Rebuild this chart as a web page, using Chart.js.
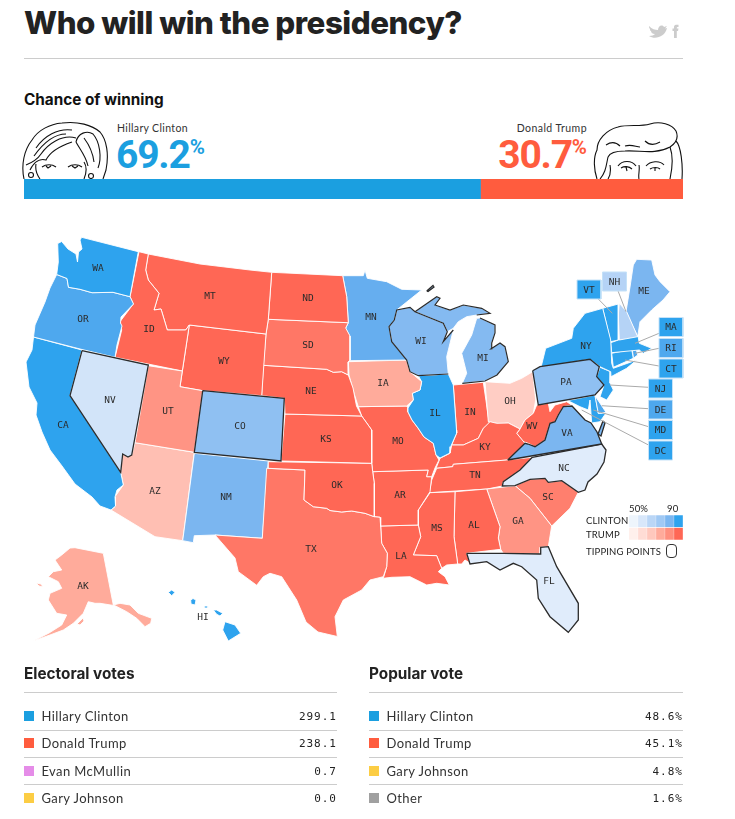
<!DOCTYPE html>
<html>
<head>
<meta charset="utf-8">
<title>Who will win the presidency?</title>
<script src="https://cdn.jsdelivr.net/npm/chart.js@4"></script>
<style>
  html, body { margin: 0; background: #fff; }
  #page { position: relative; width: 735px; height: 819px; overflow: hidden; color: #222; font-family: Inter, sans-serif; }
  #page > * { position: absolute; }
  canvas { display: block; }
  .rule { height: 1px; background: #ccc; }
  .t { white-space: nowrap; line-height: 1; }
  .big { font-family: Roboto, sans-serif; font-weight: 700; font-size: 39px; letter-spacing: -1.2px; }
  .big sup { font-size: 20.5px; font-weight: 700; letter-spacing: 0; position: relative; top: -14px; vertical-align: baseline; }
  .stateLabel { position: absolute; transform: translate(-50%, -50%); font: 9.5px "DejaVu Sans Mono", monospace; color: #2b2b2b; line-height: 1; }
  .key { font: 9.5px Lato, sans-serif; color: #222; letter-spacing: .15px; }
  .row { height: 1px; background: #ccc; }
  .name { font: 13px Lato, sans-serif; letter-spacing: .4px; color: #333; }
  .val { font: 11px "DejaVu Sans Mono", monospace; letter-spacing: 1px; color: #222; text-align: right; }
  .swatch { width: 9.5px; height: 10px; }
</style>
</head>
<body>
<div id="page">
  <div class="t" style="left:24px;top:8px;font-size:31.3px;font-weight:800;letter-spacing:-.5px" id="title">Who will win the presidency?</div>
  <svg style="left:645px;top:20px" width="40" height="22" viewBox="0 0 40 22">
    <path d="M4 6 C7 9 10 10 13 10 C13 6 17 4 19 7 L22 6 L20 8.5 L22 8 C20 17 10 20 4 16 C7 16 9 15 10 14 C7 14 6 12 6 11 C5 11 5 10 5 9 C4 8 4 7 4 6Z" fill="#ccc"/>
    <path d="M29 18 V11 H27.5 V8.5 H29 V7 C29 5 30.5 4.5 33.5 4.8 V7 C31.8 7 31.8 7.2 31.8 8.5 H33.5 L33 11 H31.8 V18Z" fill="#ccc"/>
  </svg>
  <div class="rule" style="left:24px;top:58px;width:659px"></div>
  <div class="t" style="left:24px;top:92px;font-size:15.3px;font-weight:700;color:#111">Chance of winning</div>

  <svg style="left:0;top:115px" width="735" height="64" viewBox="0 115 735 64" fill="none" stroke="#111" stroke-width="1.1">
    <path d="M24 179 C21 165 24 150 32 140 C38 130 50 124 62 123 C78 121 92 125 100 132 C107 140 109 155 106 170 L103 179"/>
    <path d="M76 142 C78 133 87 130 93 134 C100 142 102 158 98 168"/>
    <path d="M76 142 C79 148 86 156 88 166"/>
    <path d="M84 138 C90 146 93 154 94 162"/>
    <path d="M76 138 C62 134 48 144 41 154 C37 160 31 163 26 165"/>
    <path d="M72 130 C58 128 44 136 36 148"/>
    <path d="M66 134 C54 134 44 142 34 156"/>
    <path d="M72 142 C60 146 50 152 46 160 C40 158 34 162 30 170"/>
    <path d="M42 167 C46 164 52 164 56 167 M46 166 L48 168 L51 166"/>
    <path d="M68 167 C72 164 78 164 82 167 M72 166 L75 168 L78 166"/>
    <path d="M36 164 C35 170 37 175 40 179 M84 162 C88 168 86 174 84 179"/>
    <circle cx="31" cy="175" r="2.5"/><circle cx="91" cy="176" r="2.5"/>

    <path d="M597 179 C594 170 593 158 597 150 C597 140 606 130 618 127 C628 124 640 127 650 124 C660 121 672 124 676 131 C679 138 676 143 670 147 C655 155 640 150 625 151 C617 151 610 152 608 157"/>
    <path d="M676 141 C681 146 683 165 682 179"/>
    <path d="M608 157 C606 166 606 172 600 179 M610 165 C611 171 610 176 608 179"/>
    <path d="M670 147 C674 158 672 170 670 179"/>
    <path d="M606 145 C612 141 617 143 620 146 M625 146 C632 144 636 147 640 147 M645 141 C650 146 655 145 660 142"/>
    <path d="M618 166 C622 160 632 160 636 166 M621 168 C624 166 629 166 632 169 M626 167 L627 171"/>
    <path d="M646 166 C650 161 660 160 664 165 M650 169 C653 167 658 167 660 169 M655 168 L655 171"/>
    <path d="M639 165 C640 170 638 175 639 179"/>
  </svg>

  <div class="t" style="left:117px;top:122px;font:10.5px Lato,sans-serif;letter-spacing:.35px;color:#333">Hillary Clinton</div>
  <div class="t big" style="left:116px;top:136px;color:#1b9fe0" id="clintonChance"></div>
  <div class="t" style="right:148px;top:122px;font:10.5px Lato,sans-serif;letter-spacing:.45px;color:#333">Donald Trump</div>
  <div class="t big" style="right:148px;top:136px;color:#ff5c3e" id="trumpChance"></div>
  <canvas id="chanceBar" style="left:24px;top:179px"></canvas>

  <canvas id="usMap" style="left:0;top:220px"></canvas>
  <div id="mapLabels" style="left:0;top:220px;width:735px;height:430px"></div>

  <div class="t key" style="left:629px;top:503px">50%</div>
  <div class="t key" style="left:667px;top:503px">90</div>
  <div class="t key" style="left:586px;top:515px">CLINTON</div>
  <div class="t key" style="left:586px;top:529px">TRUMP</div>
  <div class="t key" style="left:586px;top:546px">TIPPING POINTS</div>
  <div style="left:666px;top:544px;width:9px;height:12px;border:1px solid #333;border-radius:4px"></div>
  <canvas id="shadeKey" style="left:629px;top:515px"></canvas>

  <div id="tables" style="left:0;top:0;width:735px;height:819px"></div>
</div>

<script>
// chance of winning
const chanceNames = ["Hillary Clinton", "Donald Trump"];
const chanceValues = [69.2, 30.7];

// bottom tables
const electoralNames = ["Hillary Clinton", "Donald Trump", "Evan McMullin", "Gary Johnson"];
const electoralValues = ["299.1", "238.1", "0.7", "0.0"];
const popularNames = ["Hillary Clinton", "Donald Trump", "Gary Johnson", "Other"];
const popularValues = ["48.6%", "45.1%", "4.8%", "1.6%"];

// state outlines (map units)
const WA = [[81.7,237.3],[138.3,251.7],[130,296.7],[113,292.3],[92,292.7],[80,289.3],[68.5,287.3],[67,278.5],[56.7,274.5],[58.3,262],[57.7,243.5],[61.7,241.5],[68,249],[76,254],[77.5,262],[78.5,252],[82,249],[80,240]];
const OR = [[56.7,274.5],[67,278.5],[68.5,287.3],[80,289.3],[92,292.7],[113,292.3],[130,296.7],[133.5,304],[121,317],[120.5,323],[122,326],[117,345],[115,357.3],[82,349.5],[33.5,337],[35,325],[45,302],[50,288]];
const CA = [[33.5,337],[82,350],[70,395.5],[120.7,472.3],[123.3,485],[117,490],[115,497],[115.5,506],[111,510],[100,506],[92,497],[75,484],[62,466],[50,450],[42,432],[36,415],[37,403],[29,387],[26,362],[32,350]];
const NV = [[82,350.7],[148.3,365],[131.7,455],[128,457],[122.7,454],[120.7,472.3],[70,395.7]];
const UT = [[148.3,365.7],[182.3,371],[180,386.7],[202.7,390.7],[194.3,452.3],[135,442.7]];
const ID = [[139,251.7],[148.3,254],[145.7,270],[148.3,280],[159,293.3],[154,310],[161,309],[167.3,330],[185.7,330],[189.3,325],[182.3,371],[115,357.3],[121.7,330],[120,321.7],[133.3,304],[130,296.7]];
const MT = [[148.3,254],[200,264],[250,270],[271.7,272.3],[268.3,319.3],[266,334],[189.3,325],[185.7,330],[167.3,330],[161,309],[154,310],[159,293.3],[148.3,280],[145.7,270]];
const WY = [[189.3,325],[266,334],[261.7,395.7],[202.7,390.7],[180,386.7]];
const ND = [[271.7,272.3],[342.7,275.7],[346.7,296.7],[348.3,322.7],[268.3,319.3]];
const SD = [[268.3,319.3],[348.3,322.7],[345.7,328],[350,336],[350,360],[348,362],[348.3,375],[341.7,371.7],[333.3,372.3],[326.7,369.3],[263.3,365.3],[266,334]];
const NE = [[263.3,365.3],[326.7,369.3],[333.3,372.3],[341.7,371.7],[348.3,375],[353,388],[356.5,406],[361.7,416],[285,414],[284.3,398.3],[261.7,395.7]];
const CO = [[202.7,390.7],[284.3,398.3],[281,461],[194.3,452.3]];
const KS = [[285,414],[361.7,416],[366,422],[371.7,430],[371.7,463.3],[281,461]];
const OK = [[268.3,461.7],[371.7,463.3],[372.7,471.7],[374.3,483.3],[374.3,516.7],[365,513.3],[351.7,511],[341.7,512],[330,510.5],[326.7,508.3],[313.3,506.7],[304,500],[305,470],[268.3,468.3]];
const TX = [[266.7,468.3],[305,470],[304,500],[313.3,506.7],[326.7,508.3],[330,510.5],[341.7,512],[351.7,511],[365,513.3],[374.3,516.7],[380,517.3],[380.7,526.7],[381.7,543.3],[387.3,553.3],[386.7,566.7],[383.3,576.7],[370,580],[361.7,590],[343.3,600],[335,616.7],[337.3,636.5],[318,632],[306,622],[296.7,600],[281.7,576.7],[270,573.3],[263.3,576.7],[256.7,585.3],[238.3,571.7],[235,558],[215,535],[262.3,538.3]];
const NM = [[194.3,453.3],[268.3,461],[262.3,538.3],[215,535],[194.3,535.7],[193.3,542.7],[182.7,540.7]];
const AZ = [[135,442.7],[194.3,452.3],[182.7,540.7],[155,536.7],[111,510],[115,506.7],[115,496.7],[123.3,485],[120.7,472.3],[122.7,454],[128,457],[131.7,455]];
const MN = [[342.7,275.7],[363.3,275.7],[365,270],[367.3,278.3],[386.7,281.7],[401.7,289.3],[421.7,290],[396.7,310],[394.3,320],[389,326.7],[391.7,341.7],[406.7,360],[350,360.7],[350,336.7],[345.7,328.3],[348.3,322.7],[346.7,296.7]];
const WI = [[396.7,310],[410,307.3],[415,311.7],[443.3,323.3],[447.3,331.7],[443.3,341.7],[453.3,330],[446.7,356.7],[448.3,374],[418.3,375.7],[410,371.7],[406.7,360],[391.7,341.7],[389,326.7],[394.3,320]];
const IA = [[348.3,361.7],[406.7,360],[410,371.7],[421.7,381.7],[420,390],[412.3,393.3],[413.3,400],[406.7,406],[358.3,406.7],[354,393.3],[349,375]];
const IL = [[418.3,375.7],[448.3,374],[453.3,385],[456.5,430],[456.7,433],[450.7,446.7],[450,453],[440,458],[436,455],[433.3,443.3],[424,437],[418,428],[412,420],[408,412],[408,408],[413.3,400],[412.3,393.3],[420,390],[421.7,381.7]];
const MO = [[358.3,406.7],[406.7,406],[408,408],[408,412],[412,420],[418,428],[424,437],[433.3,443.3],[436,455],[439,460],[435,468],[431.7,476.7],[426.7,476.7],[428.3,470],[372.7,471.7],[371.7,463.3],[371.7,430],[366,422],[361.7,416]];
const AR = [[372.7,471.7],[428.3,470],[426.7,476.7],[431.7,476.7],[430,491.7],[418.3,510],[418.3,525],[380.7,526],[380,517.3],[374.3,516.7],[374.3,483.3]];
const LA = [[380.7,526],[418.3,525],[420.7,536.7],[413.3,555],[436.7,555.7],[441.7,568.3],[438.3,571.7],[445,576.7],[449.3,585],[436.7,583.3],[426.7,585],[410,576.7],[391.7,577.3],[383.3,578.3],[386.7,566.7],[387.3,553.3],[381.7,543.3]];
const MS = [[430,492.7],[455,491.7],[454,536.7],[457.7,564],[446.7,565],[441.7,568.3],[436.7,555.7],[413.3,555],[420.7,536.7],[418.3,525],[418.3,510]];
const AL = [[455,491.7],[486.7,489],[500,526.7],[498.3,538],[500.7,549.3],[466.7,553.3],[470,563],[465,560],[461.7,564],[457.7,564],[454,536.7]];
const GA = [[486.7,489],[515,485.7],[530,498.3],[551.7,526],[548.3,546.7],[540.7,547.3],[540,554],[503.3,553.3],[500.7,549.3],[498.3,538],[500,526.7]];
const SC = [[515,485.7],[530,479.3],[545,478.3],[548.3,482.3],[561.7,480.7],[578.3,492.3],[570,508.3],[551.7,526],[530,498.3]];
const FL = [[466.7,553.3],[503.3,553.3],[540,554],[540.7,547.3],[548.3,546.7],[556.7,566.7],[578.3,603.3],[578.3,620],[568.3,632.3],[550,616.7],[538.3,598.3],[536.7,580],[521.7,566.7],[513.3,563.3],[500,570],[486.7,561.7],[470,564]];
const TN = [[429.3,492.7],[487.3,489],[502.3,486],[503.3,481.7],[520,470],[532.3,457.3],[506.7,460],[453.3,464.3],[452.7,466.7],[436.7,468.3],[431.7,480]];
const KY = [[436,468.3],[440,458.3],[450,453.3],[451.7,445],[463.3,445],[478.3,438.3],[483.3,428.3],[490,421.7],[496.7,423.3],[508.3,423],[520,429],[516.7,433.3],[525,443.3],[507.7,460],[453.3,464.3],[452.7,466.7]];
const WV = [[520,429],[525,420],[533.3,413.3],[536.7,405],[548.3,403.3],[550,411.7],[555,405],[566.7,401.7],[571.7,405],[563.3,406.7],[558.3,415],[555,421.7],[550,423.3],[545,440],[535,446.7],[528.3,443.3],[523.3,441.7],[516.7,433.3]];
const OH = [[485,381.7],[510,383.3],[521.7,378.3],[532.7,371.7],[535.7,400],[533.3,413.3],[525,420],[520,429],[508.3,423],[500,424],[488.3,421.7]];
const IN = [[453.3,385],[483.3,382.3],[489.3,423.3],[483.3,428.3],[478.3,438.3],[463.3,445],[451.7,445],[456.7,433]];
const MI_LOWER = [[462.3,383.3],[485,381],[497,375],[508.3,361.7],[505,346.7],[500,343],[491,349],[491.7,343],[495,333],[495,325],[480,318],[476.7,318.3],[471.7,335],[461.7,353.3],[466.7,373.3]];
const MI_UPPER = [[415,311.7],[436.7,296.7],[440,298.3],[435,305],[450,310],[463.3,305],[481.7,308.3],[490,313.3],[476.7,315],[466.7,316.7],[458.3,321.7],[453.3,328.3],[447.3,331.7],[443.3,323.3]];
const MI_ISLE = [[426.7,291],[433,285.5],[434,287],[428,291.5]];
const PA = [[532.7,370.7],[540,366.7],[590,359.3],[599.3,366.7],[596.7,376.7],[604,385],[595,395],[538.3,405]];
const NY = [[541,367.3],[545.7,348.3],[571.7,338.3],[573.3,328.3],[585,313.3],[602.7,308.3],[610.7,340],[611.7,363.3],[613.3,368.3],[636.7,360],[626.7,368.3],[611,376.7],[610.7,371.7],[600,366.7],[590,359.3]];
const VT = [[602.7,308.3],[618.3,304],[618.3,340],[610.7,341.7]];
const NH = [[619.3,303.3],[626.7,311.7],[637.7,336.7],[619.3,340],[618.3,315]];
const ME = [[626,311.7],[630,287],[633.3,265],[636.7,259.3],[651.7,260],[655,275],[660,281.7],[670,291.7],[663,300],[651.7,310],[640,321.7],[637.7,336.7]];
const MA = [[610.7,342.7],[618.3,340],[637.7,334],[639.3,343.3],[651.7,348.3],[643.3,353.3],[639.3,350],[611.7,352.7]];
const CT = [[611.7,353.3],[631.7,349.3],[633.3,358.3],[613.3,367.3]];
const RI = [[632.3,349.3],[636,348.7],[637.7,355],[633.3,358.3]];
const NJ = [[600,367.3],[610.7,371.7],[610,383],[613.3,390],[606.7,400],[600,396.7],[604,385],[596.7,376.7]];
const DE = [[595,395.7],[606,412.3],[598.3,413.3]];
const MD = [[550.7,404],[595,395],[598.3,413.3],[606,413],[600,421.7],[591.7,423],[590,400],[588.3,410],[580,406.7],[566.7,400]];
const VA = [[507.7,460],[601.7,444],[597,432],[591,423],[585,420],[572,406],[563.3,406.7],[558.3,415],[555,421.7],[550,423.3],[545,440],[535,446.7],[528,444],[525,443.3]];
const VA_SHORE = [[603,421],[605,423],[601,436],[598,434]];
const NC = [[532.3,457.3],[601.7,444],[606,450],[604,462],[597,474],[588,482],[585,490],[578.3,492.3],[561.7,480.7],[548.3,482.3],[545,478.3],[530,479.3],[515,485.7],[502.3,486],[503.3,481.7],[520,470]];
const AK = [[75,547.7],[103.3,553.3],[113.3,605],[120,603.3],[130,605],[138.3,613.3],[151.7,618.3],[150.7,623.3],[145,626.7],[136.7,618.3],[126.7,611.7],[115,605.7],[100,603.3],[95,603.3],[88.3,601.7],[83.3,613.3],[73.3,623.3],[63.3,630],[50,635],[33.3,641],[49,633],[61.7,625],[66.7,615],[56.7,613.3],[48.3,600],[50,593.3],[61.7,588.3],[58.3,581.7],[48.3,576.7],[53.3,571.7],[61.7,570],[55,560],[61.7,555],[70,548]];
const AK_KODIAK = [[77,624],[83,618],[84,621],[80,625]];
const AK_NORTON = [[36,583],[41,584],[43,587],[39,586]];
const HI_BIG = [[225,621.7],[235,625],[240.7,633.3],[228.3,641],[222.7,630]];
const HI_MAUI = [[213.3,610],[216.7,610],[222.7,613.3],[220,616],[216.7,614.3]];
const HI_MOLOKAI = [[204.3,606],[208.5,606],[208,608],[205,608]];
const HI_OAHU = [[190.7,600],[193,598.5],[196,600],[195,605],[191,604]];
const HI_KAUAI = [[168.3,592.3],[171.7,590],[175,592.3],[171.7,595.7]];

const shapes = [WA, OR, CA, NV, UT, ID, MT, WY, ND, SD, NE, CO, KS, OK, TX, NM, AZ, MN, WI, IA, IL, MO, AR, LA, MS, AL, GA, SC, FL, TN, KY, WV, OH, IN, MI_LOWER, MI_UPPER, MI_ISLE, PA, NY, VT, NH, ME, MA, CT, RI, NJ, DE, MD, VA, VA_SHORE, NC, AK, AK_KODIAK, AK_NORTON, HI_BIG, HI_MAUI, HI_MOLOKAI, HI_OAHU, HI_KAUAI];
const shapeStates = ["WA","OR","CA","NV","UT","ID","MT","WY","ND","SD","NE","CO","KS","OK","TX","NM","AZ","MN","WI","IA","IL","MO","AR","LA","MS","AL","GA","SC","FL","TN","KY","WV","OH","IN","MI","MI","MI","PA","NY","VT","NH","ME","MA","CT","RI","NJ","DE","MD","VA","VA","NC","AK","AK","AK","HI","HI","HI","HI","HI"];

// chance estimates from the shading: positive Clinton, negative Trump
const stateNames = ["WA","OR","CA","NV","UT","ID","MT","WY","ND","SD","NE","CO","KS","OK","TX","NM","AZ","MN","WI","IA","IL","MO","AR","LA","MS","AL","GA","SC","FL","TN","KY","WV","OH","IN","MI","PA","NY","VT","NH","ME","MA","CT","RI","NJ","DE","MD","VA","NC","AK","HI"];
const stateChance = [95,88,99,56,-68,-95,-95,-99,-95,-84,-92,70,-92,-95,-84,79,-54,84,77,-64,95,-91,-95,-96,-92,-97,-70,-80,51,-92,-96,-97,-51,-92,77,70,97,95,64,78,99,97,88,96,88,99,79,51,-64,99];

// tipping point states get a dark edge; WI and MI only along these stretches
const tippingStates = ["NV","CO","PA","VA","NC","FL"];
const WI_EDGE = [[448.3,374],[418.3,375.7],[410,371.7],[406.7,360],[391.7,341.7],[389,326.7],[394.3,320],[396.7,310],[410,307.3],[415,311.7],[443.3,323.3],[447.3,331.7],[443.3,341.7],[453.3,330]];
const MI_LOWER_EDGE = [[462.3,383.3],[485,381],[497,375],[508.3,361.7],[505,346.7],[500,343],[491,349],[491.7,343],[495,333],[495,325],[480,318]];
const MI_UPPER_EDGE = [[415,311.7],[436.7,296.7],[440,298.3],[435,305],[450,310],[463.3,305],[481.7,308.3],[490,313.3],[476.7,315]];
const MI_ISLE_EDGE = [[426.7,291],[433,285.5],[434,287],[428,291.5],[426.7,291]];
const darkEdges = [WI_EDGE, MI_LOWER_EDGE, MI_UPPER_EDGE, MI_ISLE_EDGE];

// map labels and tiles for the small northeast states
const labelStates = ["WA","OR","CA","NV","ID","MT","WY","UT","AZ","CO","NM","ND","SD","NE","KS","OK","TX","MN","IA","MO","AR","LA","WI","IL","MI","IN","OH","KY","TN","MS","AL","GA","SC","FL","NC","VA","WV","PA","NY","ME","AK","HI"];
const labelX = [98,83,63,110,149,210,224,168,155,240,226,308,308,311,326,337,311,371,383,398,400,401,421,435,483,470,510,485,475,437,474,518,548,549,564,567,532,566,586,644,83,203];
const labelY = [268,319,425,400,329,296,361,411,491,426,497,298,345,391,439,485,549,317,383,441,495,556,341,413,358,412,401,447,475,528,525,521,497,581,468,433,426,382,346,291,586,617];
const tileStates = ["VT","NH","MA","RI","CT","NJ","DE","MD","DC"];
const tileLeft = [577,602.5,659,659,659,648.5,648.5,648.5,648.5];
const tileTop = [280,272,317.5,338.5,359,379,400,420.5,441];
const tileChance = [95,64,99,88,97,96,88,99,99];
const leaderFrom = [[598.3,299],[617.7,290],[659,333.3],[659,348.3],[659,366],[648.5,387.3],[648.5,408.7],[648.5,426.7],[648.5,445]];
const leaderTo = [[612.3,313.3],[626,311.7],[635,343.3],[635,353.3],[625,360],[610,385],[601.7,405.7],[593.3,410],[581.7,410]];

// colour key
const keySteps = ["50", "58", "66", "74", "82", "90"];
const keyClinton = ["#eef5fc","#d8e7fa","#bad6f6","#a0c9f4","#7bb6f0","#2ea3ee"];
const keyTrump = ["#fff0ec","#ffdcd5","#ffc8bd","#ffab9b","#ff8f7e","#ff6755"];

const chanceSteps = [52, 58, 66, 72, 78, 82, 86, 90];
const blues = ["#e0ecfb","#d2e4f9","#b5d3f6","#8fc0f2","#84baf1","#7bb6f0","#66aeef","#4ea8ee","#2ea3ee"];
const reds = ["#ffcdc4","#ffbfb3","#ffab9b","#ff9484","#ff8a79","#ff7f6e","#ff7766","#ff6f5d","#ff6755"];

function shade(chance) {
  let i = chanceSteps.findIndex(s => Math.abs(chance) < s);
  if (i < 0) i = chanceSteps.length;
  return chance > 0 ? blues[i] : reds[i];
}

Chart.defaults.animation = false;
Chart.defaults.plugins.legend.display = false;
Chart.defaults.plugins.tooltip.enabled = false;
Chart.defaults.responsive = false;
Chart.defaults.events = [];

// top bar
document.getElementById("clintonChance").innerHTML = chanceValues[0] + "<sup>%</sup>";
document.getElementById("trumpChance").innerHTML = chanceValues[1] + "<sup>%</sup>";

const barEl = document.getElementById("chanceBar");
barEl.width = 659; barEl.height = 20;
new Chart(barEl, {
  type: "bar",
  data: {
    labels: ["Chance of winning"],
    datasets: chanceNames.map((name, i) => ({
      label: name,
      data: [chanceValues[i]],
      backgroundColor: ["#1b9fe0", "#ff5c3e"][i],
      barPercentage: 1,
      categoryPercentage: 1
    }))
  },
  options: {
    indexAxis: "y",
    scales: {
      x: { display: false, stacked: true, min: 0, max: chanceValues[0] + chanceValues[1] },
      y: { display: false, stacked: true }
    }
  }
});

// map: every outline is a closed scatter line filled as a shape
function toPoints(points) {
  return points.map(p => ({ x: p[0], y: p[1] }));
}
function closed(points) {
  return toPoints(points.concat([points[0]]));
}

const mapSets = [];
shapes.forEach((shape, i) => {
  const code = shapeStates[i];
  const tipping = tippingStates.includes(code);
  mapSets.push({
    data: closed(shape),
    showLine: true,
    fill: "shape",
    backgroundColor: shade(stateChance[stateNames.indexOf(code)]),
    borderColor: tipping ? "#2b2b2b" : "#fff",
    borderWidth: tipping ? 1.3 : 0.9,
    pointRadius: 0,
    tension: 0,
    order: tipping ? 2 : 3
  });
});

darkEdges.forEach(edge => {
  mapSets.push({
    data: toPoints(edge),
    showLine: true,
    borderColor: "#2b2b2b",
    borderWidth: 1.2,
    pointRadius: 0,
    order: 2
  });
});

leaderFrom.forEach((from, i) => {
  mapSets.push({
    data: toPoints([from, leaderTo[i]]),
    showLine: true,
    borderColor: "#aaa",
    borderWidth: 1,
    pointRadius: 0,
    order: 1
  });
});

const tileW = 24, tileH = 19;
tileStates.forEach((code, i) => {
  const l = tileLeft[i], t = tileTop[i];
  mapSets.push({
    data: closed([[l, t], [l + tileW, t], [l + tileW, t + tileH], [l, t + tileH]]),
    showLine: true,
    fill: "shape",
    backgroundColor: shade(tileChance[i]),
    borderColor: "#c5e2f8",
    borderWidth: 1,
    pointRadius: 0,
    order: 0
  });
});

const mapEl = document.getElementById("usMap");
mapEl.width = 735; mapEl.height = 430;
const mapChart = new Chart(mapEl, {
  type: "scatter",
  data: { datasets: mapSets },
  options: {
    scales: {
      x: { display: false, min: 0, max: 735 },
      y: { display: false, min: 220, max: 650, reverse: true }
    }
  }
});

const labelBox = document.getElementById("mapLabels");
function addLabel(text, x, y) {
  const span = document.createElement("span");
  span.className = "stateLabel";
  span.textContent = text;
  span.style.left = mapChart.scales.x.getPixelForValue(x) + "px";
  span.style.top = mapChart.scales.y.getPixelForValue(y) + "px";
  labelBox.appendChild(span);
}
labelStates.forEach((code, i) => addLabel(code, labelX[i], labelY[i]));
tileStates.forEach((code, i) => addLabel(code, tileLeft[i] + tileW / 2, tileTop[i] + tileH / 2));

// colour key
const keyEl = document.getElementById("shadeKey");
keyEl.width = 54; keyEl.height = 25;
new Chart(keyEl, {
  type: "bar",
  data: {
    labels: ["CLINTON", "TRUMP"],
    datasets: keySteps.map((step, i) => ({
      label: step,
      data: [1, 1],
      backgroundColor: [keyClinton[i], keyTrump[i]],
      borderColor: "#fff",
      borderWidth: 0.5,
      barPercentage: 1,
      categoryPercentage: 1
    }))
  },
  options: {
    indexAxis: "y",
    scales: {
      x: { display: false, stacked: true, min: 0, max: keySteps.length },
      y: { display: false, stacked: true }
    }
  }
});

// tables under the map
const swatchColors = {
  "Hillary Clinton": "#1b9fe0",
  "Donald Trump": "#ff5c3e",
  "Evan McMullin": "#e58ce8",
  "Gary Johnson": "#fccd44",
  "Other": "#a0a0a0"
};
const rowCenters = [716, 743, 771, 798];
const rowRules = [729.5, 757, 784];
const tables = document.getElementById("tables");

function addEl(cls, css, text) {
  const d = document.createElement("div");
  d.className = cls;
  d.style.cssText = "position:absolute;" + css;
  if (text) d.textContent = text;
  tables.appendChild(d);
}

function drawTable(title, names, values, left, width) {
  addEl("t", `left:${left}px;top:666px;font-size:15.3px;font-weight:700;color:#222`, title);
  addEl("rule", `left:${left}px;top:692px;width:${width}px`);
  rowRules.forEach(y => addEl("row", `left:${left}px;top:${y}px;width:${width}px`));
  names.forEach((name, i) => {
    const y = rowCenters[i];
    addEl("swatch", `left:${left}px;top:${y - 5}px;background:${swatchColors[name]}`);
    addEl("t name", `left:${left + 17.5}px;top:${y - 8}px`, name);
    addEl("t val", `right:${735 - left - width}px;top:${y - 6}px`, values[i]);
  });
}

drawTable("Electoral votes", electoralNames, electoralValues, 24, 313);
drawTable("Popular vote", popularNames, popularValues, 369, 314);
</script>
</body>
</html>
